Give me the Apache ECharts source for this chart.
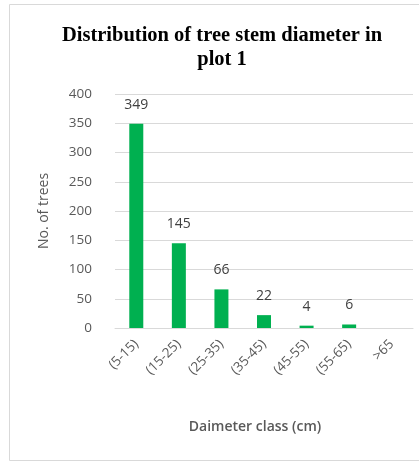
<!DOCTYPE html>
<html>
<head>
<meta charset="utf-8">
<script src="https://cdn.jsdelivr.net/npm/echarts@6/dist/echarts.min.js"></script>
<style>
  html, body { margin: 0; padding: 0; background: #fff; }
  #chart { width: 419px; height: 462px; }
</style>
</head>
<body>
<div id="chart"></div>
<script>
const classes = ['(5-15)', '(15-25)', '(25-35)', '(35-45)', '(45-55)', '(55-65)', '>65']
const treeCounts = [349, 145, 66, 22, 4, 6, null]
const countLabels = ['349', '145', '66', '22', '4', '6', '']

const chart = echarts.init(document.getElementById('chart'))

const option = {
  backgroundColor: '#fff',
  animation: false,
  graphic: [
    {
      type: 'rect',
      shape: { x: 9.5, y: 4.5, width: 420, height: 456 },
      style: { fill: 'none', stroke: '#d9d9d9', lineWidth: 1 },
      silent: true
    }
  ],
  title: {
    text: 'Distribution of tree stem diameter in\nplot 1',
    left: 217,
    textAlign: 'center',
    top: 19,
    textStyle: {
      fontFamily: 'Liberation Serif',
      fontWeight: 'bold',
      fontSize: 20.5,
      lineHeight: 24,
      color: '#000'
    }
  },
  grid: {
    left: 115,
    right: 6,
    top: 94,
    bottom: 134
  },
  xAxis: {
    type: 'category',
    data: classes,
    name: 'Daimeter class (cm)',
    nameLocation: 'middle',
    nameGap: 92,
    nameTextStyle: {
      fontFamily: 'Open Sans',
      fontSize: 14,
      fontWeight: 600,
      color: '#595959',
      padding: [0, 18, 0, 0]
    },
    axisLine: { lineStyle: { color: '#d9d9d9', width: 1 } },
    axisTick: { show: false },
    axisLabel: {
      rotate: 45,
      margin: 14,
      fontFamily: 'Open Sans',
      fontSize: 13.5,
      color: '#595959'
    }
  },
  yAxis: {
    type: 'value',
    min: 0,
    max: 400,
    interval: 50,
    name: 'No. of trees',
    nameLocation: 'middle',
    nameGap: 64,
    nameTextStyle: {
      fontFamily: 'Open Sans',
      fontSize: 14,
      color: '#595959'
    },
    axisLine: { show: false },
    axisTick: { show: false },
    axisLabel: {
      margin: 23,
      fontFamily: 'Open Sans',
      fontSize: 13.5,
      color: '#595959'
    },
    splitLine: { lineStyle: { color: '#d9d9d9', width: 1 } }
  },
  series: [
    {
      type: 'bar',
      data: treeCounts,
      barWidth: 14,
      itemStyle: { color: '#00b050' },
      label: {
        show: true,
        position: 'top',
        distance: 12,
        fontFamily: 'Open Sans',
        fontSize: 14,
        color: '#404040',
        formatter: p => countLabels[p.dataIndex]
      }
    }
  ]
}

chart.setOption(option)
</script>
</body>
</html>
